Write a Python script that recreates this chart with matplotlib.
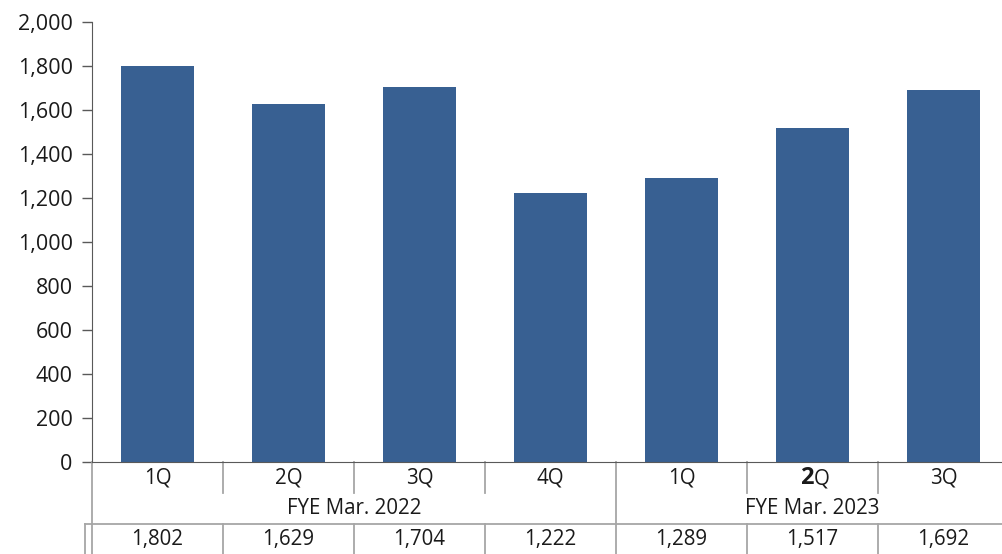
import matplotlib
matplotlib.use("Agg")
import matplotlib.pyplot as plt
import matplotlib.transforms as mtransforms

quarters = ["1Q", "2Q", "3Q", "4Q", "1Q", "2Q", "3Q"]
groups = ["FYE Mar. 2022", "FYE Mar. 2023"]
group_sizes = [4, 3]
values = [1802, 1629, 1704, 1222, 1289, 1517, 1692]
yticks = [0, 200, 400, 600, 800, 1000, 1200, 1400, 1600, 1800, 2000]

W, H = 1003, 554
plt.rcParams['font.family'] = ['Open Sans', 'DejaVu Sans']
fig = plt.figure(figsize=(W / 100, H / 100), dpi=100)
ax = fig.add_axes([92 / W, (H - 462) / H, (1009 - 92) / W, (462 - 22) / H])

x = list(range(len(values)))
ax.bar(x, values, width=0.55, color="#386092", zorder=2)
ax.set_xlim(-0.5, len(values) - 0.5)
ax.set_ylim(0, 2000)
ax.set_yticks(yticks)
ax.set_yticklabels([f"{v:,}" for v in yticks], fontsize=15.5, color="#1a1a1a")
ax.tick_params(axis='y', length=7, width=1, color="#595959", pad=7)
ax.set_xticks([])
for s in ["top", "right"]:
    ax.spines[s].set_visible(False)
ax.spines["left"].set_color("#595959")
ax.spines["bottom"].set_color("#595959")

# table below the axes: x in data coords, y in figure pixels (top-down)
px = mtransforms.Affine2D().scale(1 / W, -1 / H).translate(0, 1) + fig.transFigure
tr = mtransforms.blended_transform_factory(ax.transData, px)
gray = "#A6A6A6"
lw = 1.3

def vline(xd, y0, y1):
    ax.plot([xd, xd], [y0, y1], transform=tr, color=gray, lw=lw, clip_on=False)

# left borders
ax.plot([-0.5, -0.5], [462, 524], transform=tr, color=gray, lw=lw, clip_on=False)
xl = ax.transData.inverted().transform((85, 0))[0]
ax.plot([xl, xl], [524, 554], transform=tr, color=gray, lw=lw, clip_on=False)
ax.plot([-0.5, -0.5], [524, 554], transform=tr, color=gray, lw=lw, clip_on=False)
# horizontal line
ax.plot([xl, len(values) - 0.5], [524, 524], transform=tr, color=gray, lw=lw, clip_on=False)

bounds = []
c = 0
for g in group_sizes[:-1]:
    c += g
    bounds.append(c)
for i in range(1, len(values)):
    b = i - 0.5
    if i in bounds:
        vline(b, 462, 554)
    else:
        vline(b, 462, 493)
        vline(b, 524, 554)

fs = 14.8
tc = "#1a1a1a"
for i, q in enumerate(quarters):
    if i == 5:
        # the reference shows this label with a larger bold "2"
        ax.text(i + 0.01, 478, q[0], transform=tr, ha='right', va='center',
                fontsize=17, fontweight='bold', color=tc)
        ax.text(i + 0.01, 479, q[1:], transform=tr, ha='left', va='center',
                fontsize=fs, color=tc)
    else:
        ax.text(i, 478, q, transform=tr, ha='center', va='center', fontsize=fs, color=tc)
start = 0
for g, n in zip(groups, group_sizes):
    ax.text(start + (n - 1) / 2, 508, g, transform=tr, ha='center', va='center', fontsize=fs, color=tc)
    start += n
for i, v in enumerate(values):
    ax.text(i, 540, f"{v:,}", transform=tr, ha='center', va='center', fontsize=fs, color=tc)

fig.savefig("out.png", dpi=100)
